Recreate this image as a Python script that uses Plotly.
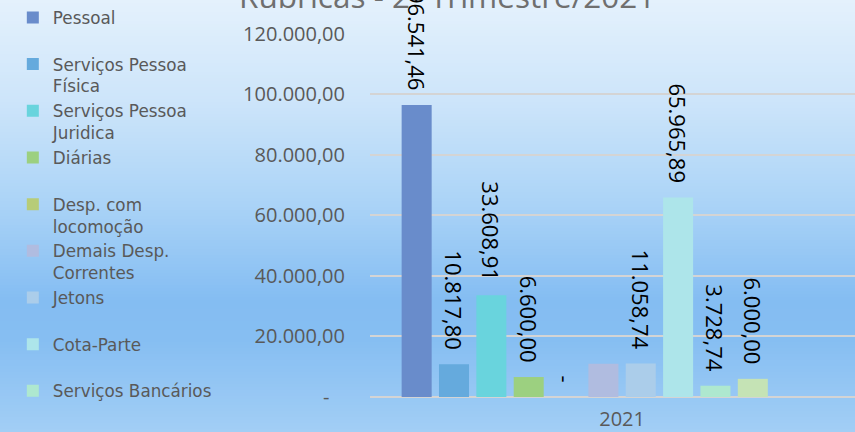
import plotly.graph_objects as go

# ---------------- data ----------------
categories = ["2021"]
series_names = [
    "Pessoal", "Serviços Pessoa Física", "Serviços Pessoa Juridica", "Diárias",
    "Desp. com locomoção", "Demais Desp. Correntes", "Jetons", "Cota-Parte",
    "Serviços Bancários", "Outras Despesas", "Série 11", "Série 12",
]
legend_labels = [
    "Pessoal", "Serviços Pessoa<br>Física", "Serviços Pessoa<br>Juridica", "Diárias",
    "Desp. com<br>locomoção", "Demais Desp.<br>Correntes", "Jetons", "Cota-Parte",
    "Serviços Bancários",
]
series_values = [96541.46, 10817.80, 33608.91, 6600.00, 0.0, 11000.00,
                 11058.74, 65965.89, 3728.74, 6000.00, 0.0, 0.0]
label_shown = [True, True, True, True, True, False, True, True, True, True, False, False]
in_legend = [True] * 9 + [False] * 3
y_tickvals = [0, 20000, 40000, 60000, 80000, 100000, 120000]
y_ticktext = ["-\u00a0\u00a0\u00a0", "20.000,00", "40.000,00", "60.000,00",
              "80.000,00", "100.000,00", "120.000,00"]
title_text = "Rubricas - 2º Trimestre/2021"

# ---------------- styles ----------------
colors = ["#698ccb", "#65aadd", "#69d4dd", "#9cd080", "#b7cc78", "#b0bce0",
          "#abcdea", "#ade5ea", "#aee8cf", "#c5e3b5", "#c5e3b5", "#c5e3b5"]
W, H = 855, 432
ML, MR, MT, MB = 370, 0, 33, 35
FONT = "Open Sans"
GREY = "#595959"


def br_fmt(v):
    if v == 0:
        return "-"
    s = f"{v:,.2f}"
    return s.replace(",", "X").replace(".", ",").replace("X", ".")


fig = go.Figure()
for i, (name, val) in enumerate(zip(series_names, series_values)):
    txt = (br_fmt(val) + "\u00a0\u00a0") if label_shown[i] else ""
    if in_legend[i]:
        lab = legend_labels[i]
        legname = lab if "<br>" in lab else lab + "<br>\u00a0"
    else:
        legname = name
    fig.add_trace(go.Bar(
        x=categories, y=[val], name=legname,
        marker=dict(color=colors[i], line=dict(width=0)),
        text=[txt], textposition="outside", textangle=90, constraintext="none",
        textfont=dict(family=FONT, size=22, color="#000000"),
        cliponaxis=False, showlegend=in_legend[i], hoverinfo="skip",
    ))

# gradient background stripes
stops = [(0, (228, 241, 252)), (100, (205, 229, 250)), (200, (172, 212, 247)),
         (300, (132, 189, 242)), (340, (134, 190, 242)), (432, (162, 206, 245))]


def col_at(p):
    for (p0, c0), (p1, c1) in zip(stops[:-1], stops[1:]):
        if p0 <= p <= p1:
            t = (p - p0) / (p1 - p0)
            return "rgb(%d,%d,%d)" % tuple(round(a + (b - a) * t) for a, b in zip(c0, c1))
    return "rgb(%d,%d,%d)" % stops[-1][1]


pw, ph = W - ML - MR, H - MT - MB
shapes = []
step = 3
for p in range(0, H, step):
    shapes.append(dict(
        type="rect", xref="paper", yref="paper", layer="below",
        x0=-ML / pw, x1=1 + MR / pw + 0.01,
        y0=1 + (MT - p - step) / ph, y1=1 + (MT - p) / ph,
        fillcolor=col_at(p + step / 2), line=dict(width=0),
    ))

fig.update_layout(
    width=W, height=H,
    margin=dict(l=ML, r=MR, t=MT, b=MB, autoexpand=False),
    paper_bgcolor="rgba(0,0,0,0)", plot_bgcolor="rgba(0,0,0,0)",
    barmode="group", bargap=0.111, bargroupgap=0.196,
    shapes=shapes,
    font=dict(family=FONT, color=GREY),
    showlegend=True,
    legend=dict(
        xref="container", yref="container", x=0.015, y=1.016,
        xanchor="left", yanchor="top", valign="top",
        font=dict(family="DejaVu Sans", size=16.8, color=GREY),
        bgcolor="rgba(0,0,0,0)", tracegroupgap=0, maxheight=2000,
        traceorder="normal",
    ),
    xaxis=dict(
        type="category", range=[-0.5, 0.462], showgrid=False, showline=False,
        ticks="", tickfont=dict(family=FONT, size=20, color=GREY),
        ticklabelstandoff=8, zeroline=False,
    ),
    yaxis=dict(
        range=[0, 120300], tickvals=y_tickvals, ticktext=y_ticktext,
        showgrid=True, gridcolor="#d4d4d4", gridwidth=1.5,
        zeroline=True, zerolinecolor="#d4d4d4", zerolinewidth=1.5,
        showline=False, ticks="", ticklabelstandoff=24,
        tickfont=dict(family=FONT, size=20, color=GREY),
    ),
    annotations=[dict(
        text=title_text, xref="paper", yref="paper", x=(447 - ML) / pw,
        y=1 + (MT + 4) / ph, xanchor="center", yanchor="middle", showarrow=False,
        font=dict(family=FONT, size=31.5, color="#6f6f6f"),
    )],
)

fig.write_html("out.html", config={"displayModeBar": False},
               post_script="document.body.style.margin='0';")
